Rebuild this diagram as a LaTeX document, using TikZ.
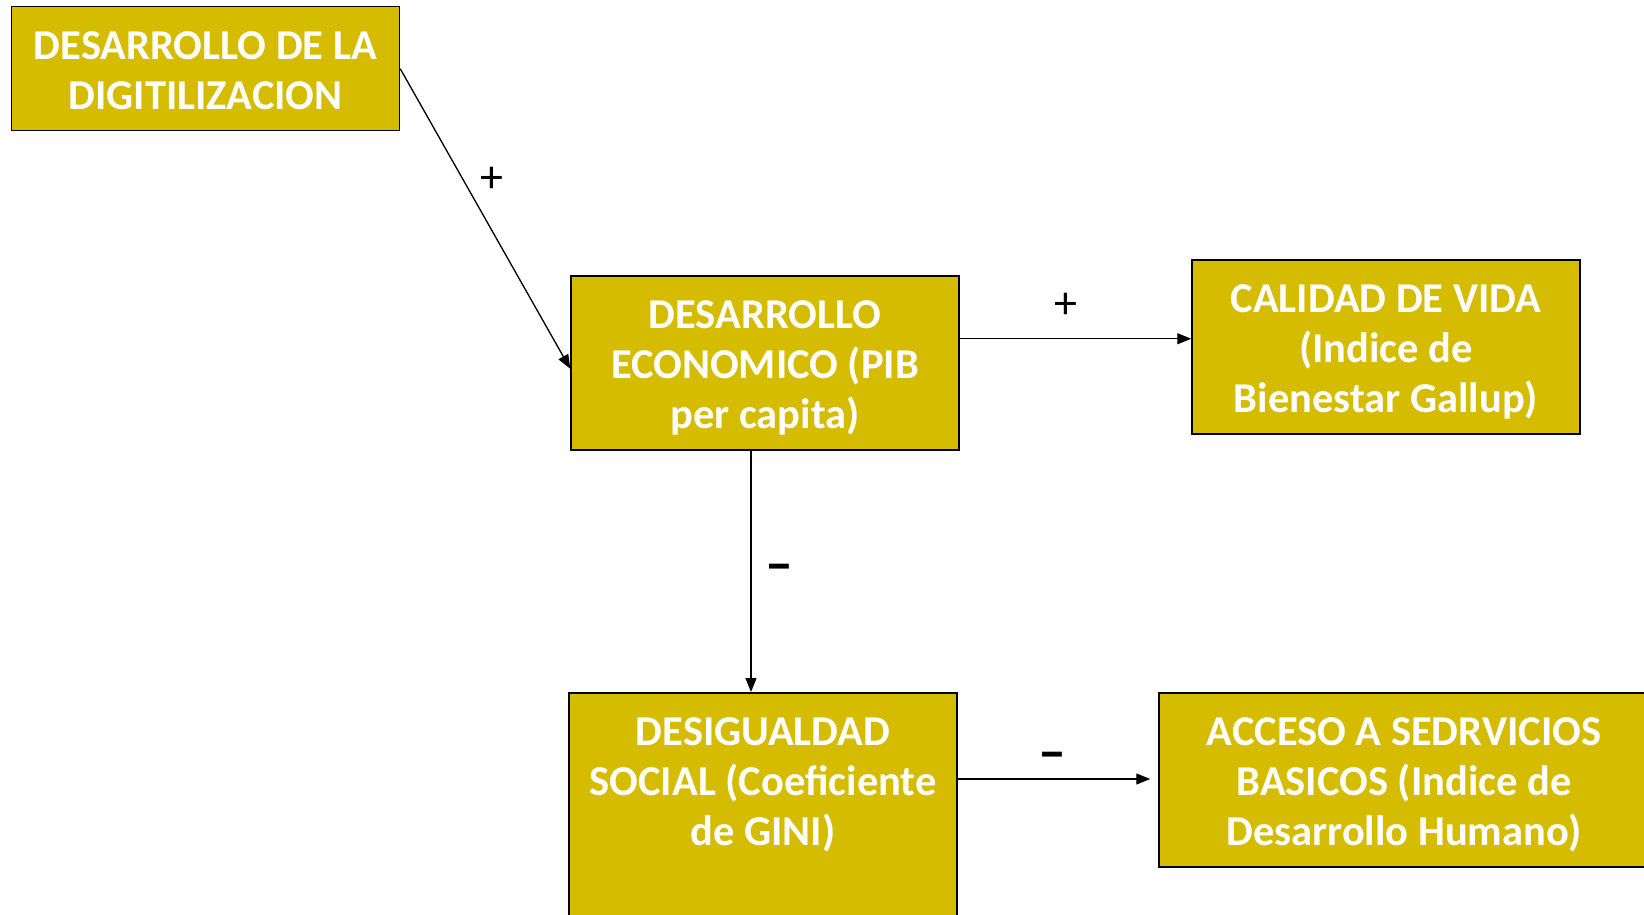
\documentclass[tikz,border=0pt]{standalone}
\usepackage{fontspec}
\setmainfont{Carlito}
\usetikzlibrary{arrows.meta,positioning}
\definecolor{mostaza}{RGB}{213,188,0}
\tikzset{
  caja/.style   = {rectangle, draw=black, line width=1.5pt, fill=mostaza, text=white,
                   font=\fontsize{42.5}{50}\selectfont\bfseries, align=flush center,
                   text width=388pt, minimum width=388pt, inner xsep=0pt, inner ysep=12pt,
                   anchor=north,
                   execute at begin node=\rule{0pt}{41pt},
                   execute at end node=\rule[-9pt]{0pt}{9pt}},
  flecha/.style = {-{Triangle[length=14pt,width=11pt]}, line width=1.3pt},
  signo/.style  = {font=\fontsize{46}{46}\selectfont, text=black, inner sep=0pt},
  menos/.style  = {font=\fontsize{56}{56}\selectfont\bfseries, text=black, inner sep=0pt}
}

\begin{document}
\begin{tikzpicture}[x=1pt, y=-1pt]
\useasboundingbox (0,0) rectangle (1644,915);
\clip (0,0) rectangle (1644,915);

% cajas
\node[caja] (dig) at (205.5,6) {DESARROLLO DE LA\\DIGITILIZACION};
\node[caja] (eco) at (765,275) {DESARROLLO\\ECONOMICO (PIB\\per capita)};
\node[caja] (cal) at (1386,259) {CALIDAD DE VIDA\\(Indice de\\Bienestar Gallup)};
\node[caja] (des) at (763,692) {DESIGUALDAD\\SOCIAL (Coeficiente\\de GINI)\rule[-120pt]{0pt}{0pt}};
\node[caja, text width=490pt, minimum width=490pt] (acc) at (1404,692) {ACCESO A SEDRVICIOS\\BASICOS (Indice de\\Desarrollo Humano)};

% flechas entre cajas
\draw[flecha] (dig.east) -- ([yshift=-6pt]eco.west)
  node[signo, pos=0.37, xshift=29pt] {+};
\draw[flecha] ([yshift=24pt]eco.east) -- ([yshift=24pt]eco.east -| cal.west)
  node[signo, pos=0.46, yshift=33pt] {+};
\draw[flecha] ([xshift=-14pt]eco.south) -- ([xshift=-14pt]eco.south |- des.north)
  node[menos, pos=0.5, xshift=28pt, yshift=-2pt] {–};
\draw[flecha] ([yshift=-87pt]des.north east) -- ([yshift=-87pt, xshift=-8pt]des.north east -| acc.west)
  node[menos, pos=0.49, yshift=18pt] {–};

\end{tikzpicture}
\end{document}
